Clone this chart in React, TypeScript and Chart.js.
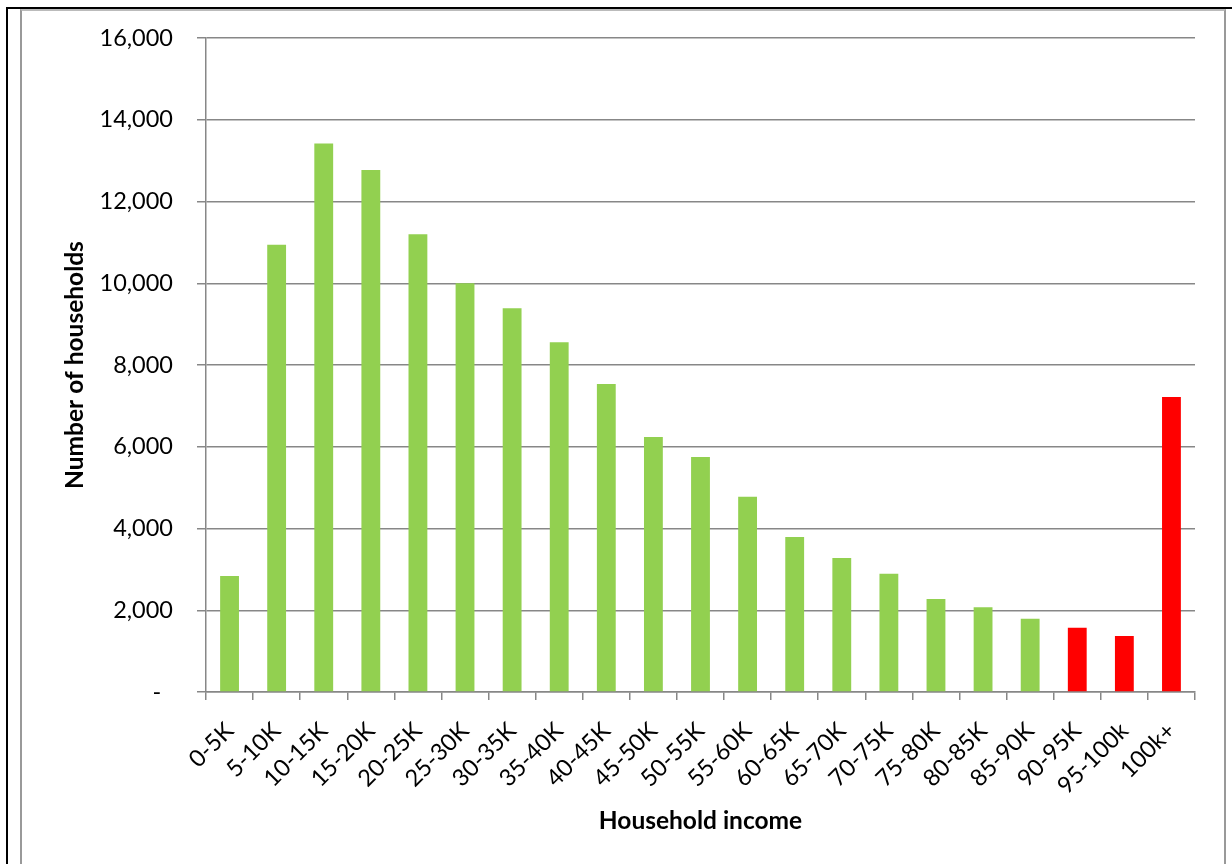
import React, { useEffect, useRef } from "react";
import { Chart, registerables } from "chart.js";

Chart.register(...registerables);

// Household income brackets and number of households in each
const incomeBands: string[] = [
  "0-5K", "5-10K", "10-15K", "15-20K", "20-25K", "25-30K", "30-35K",
  "35-40K", "40-45K", "45-50K", "50-55K", "55-60K", "60-65K", "65-70K",
  "70-75K", "75-80K", "80-85K", "85-90K", "90-95K", "95-100k", "100k+",
];

const households: number[] = [
  2840, 10940, 13420, 12770, 11200, 10000, 9390,
  8555, 7535, 6240, 5750, 4775, 3795, 3280,
  2890, 2275, 2075, 1790, 1570, 1370, 7220,
];

// Brackets shown in the highlight colour
const topBands: string[] = ["90-95K", "95-100k", "100k+"];

const yTicks: number[] = [0, 2000, 4000, 6000, 8000, 10000, 12000, 14000, 16000];

const GREEN = "#92D050";
const RED = "#FF0000";
const GRID = "#878787";
const FONT = "Lato, 'Open Sans', sans-serif";

function formatCount(v: number): string {
  if (v === 0) return "-\u2002";
  return v.toLocaleString("en-US");
}

export default function App() {
  const canvasRef = useRef<HTMLCanvasElement | null>(null);

  useEffect(() => {
    const canvas = canvasRef.current;
    if (!canvas) return;
    const chart = new Chart(canvas, {
      type: "bar",
      data: {
        labels: incomeBands,
        datasets: [
          {
            data: households,
            backgroundColor: incomeBands.map((b) => (topBands.includes(b) ? RED : GREEN)),
            barPercentage: 0.4,
            categoryPercentage: 1.0,
            borderWidth: 0,
          },
        ],
      },
      options: {
        animation: false,
        responsive: false,
        maintainAspectRatio: false,
        layout: { padding: { left: 0, right: 27, top: 27, bottom: 0 } },
        plugins: {
          legend: { display: false },
          tooltip: { enabled: false },
        },
        scales: {
          x: {
            afterFit: (scale: any) => {
              scale.height = 172;
            },
            grid: {
              display: true,
              drawOnChartArea: false,
              drawTicks: true,
              tickLength: 8,
              color: GRID,
              lineWidth: 1.5,
              offset: true,
            },
            border: { display: true, color: GRID, width: 1.5 },
            ticks: {
              minRotation: 45,
              maxRotation: 45,
              autoSkip: false,
              padding: 17,
              color: "#000",
              font: { family: FONT, size: 23.5 },
            },
            title: {
              display: true,
              text: "Household income",
              color: "#000",
              font: { family: FONT, size: 24.5, weight: "bold" },
              padding: { top: 0, bottom: 28 },
            },
          },
          y: {
            min: 0,
            max: 16000,
            afterFit: (scale: any) => {
              scale.width = 184;
              scale.paddingTop = 0;
              scale.paddingBottom = 0;
            },
            afterBuildTicks: (scale: any) => {
              scale.ticks = yTicks.map((v) => ({ value: v }));
            },
            grid: {
              color: GRID,
              lineWidth: 1.5,
              drawTicks: true,
              tickLength: 9,
            },
            border: { display: true, color: GRID, width: 1.5 },
            ticks: {
              padding: 24,
              color: "#000",
              font: { family: FONT, size: 23.5 },
              callback: (v: any) => formatCount(Number(v)),
            },
            title: {
              display: true,
              text: "Number of households",
              color: "#000",
              font: { family: FONT, size: 24.5, weight: "bold" },
              padding: { top: 38, bottom: 0 },
            },
          },
        },
      },
    });
    return () => chart.destroy();
  }, []);

  return (
    <div style={{ position: "absolute", left: 0, top: 0, width: 1232, height: 864, overflow: "hidden", background: "#fff" }}>
      {/* page frame lines */}
      <div style={{ position: "absolute", left: 6, top: 7, width: 2, height: 857, background: "#000" }} />
      <div style={{ position: "absolute", left: 6, top: 7, width: 1226, height: 2, background: "#000" }} />
      {/* chart box */}
      <div
        style={{
          position: "absolute",
          left: 20,
          top: 9,
          width: 1202,
          height: 870,
          borderLeft: "2px solid #999",
          borderTop: "2px solid #bbb",
          borderRight: "2px solid #999",
          background: "#fff",
        }}
      >
        <canvas ref={canvasRef} width={1200} height={853} style={{ display: "block", width: 1200, height: 853 }} />
      </div>
    </div>
  );
}
